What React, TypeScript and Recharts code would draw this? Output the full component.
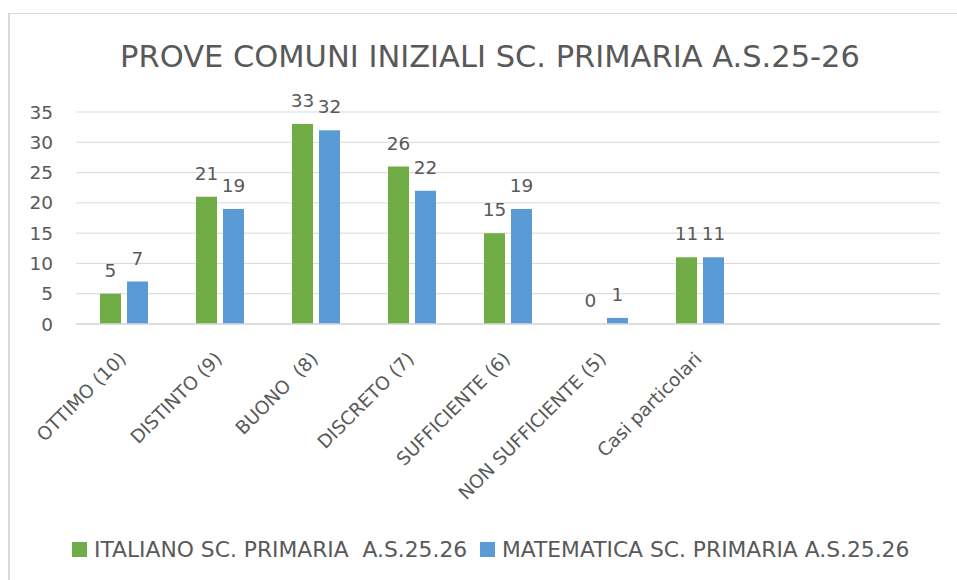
import React from "react";
import { BarChart, Bar, XAxis, YAxis, CartesianGrid, LabelList } from "recharts";

const categories = [
  "OTTIMO (10)",
  "DISTINTO (9)",
  "BUONO  (8)",
  "DISCRETO (7)",
  "SUFFICIENTE (6)",
  "NON SUFFICIENTE (5)",
  "Casi particolari",
  " ",
  "  ",
];
const italiano: (number | null)[] = [5, 21, 33, 26, 15, 0, 11, null, null];
const matematica: (number | null)[] = [7, 19, 32, 22, 19, 1, 11, null, null];
const seriesNames = ["ITALIANO SC. PRIMARIA  A.S.25.26", "MATEMATICA SC. PRIMARIA A.S.25.26"];
const seriesColors = ["#70AD47", "#5B9BD5"];
const yTicks = [0, 5, 10, 15, 20, 25, 30, 35];
const title = "PROVE COMUNI INIZIALI SC. PRIMARIA A.S.25-26";

const data = categories.map((c, i) => ({ name: c, ita: italiano[i], mat: matematica[i] }));

const FONT = "'DejaVu Sans', sans-serif";
const TXT = "#595959";

const XTick = (props: any) => {
  const { x, y, payload } = props;
  const ax = x + 3;
  const ay = y + 28;
  return (
    <text
      x={ax}
      y={ay}
      transform={`rotate(-45 ${ax} ${ay})`}
      textAnchor="end"
      fill={TXT}
      fontSize={18.5}
      fontFamily={FONT}
      style={{ whiteSpace: "pre" }}
    >
      {payload.value}
    </text>
  );
};

const renderLabel = (props: any) => {
  const { x, y, width, value } = props;
  if (value === null || value === undefined) return null;
  return (
    <text x={x + width / 2} y={y - 17} textAnchor="middle" fill={TXT} fontSize={18.5} fontFamily={FONT}>
      {value}
    </text>
  );
};

export default function App() {
  return (
    <div style={{ position: "absolute", left: 0, top: 0, width: 957, height: 580, background: "#fff", overflow: "hidden" }}>
      <div
        style={{
          position: "absolute",
          left: 8,
          top: 13,
          width: 1000,
          height: 1000,
          borderLeft: "2px solid #d9d9d9",
          borderTop: "1px solid #d9d9d9",
        }}
      />
      <div style={{ position: "absolute", left: 0, top: 0 }}>
        <BarChart
          width={957}
          height={580}
          data={data}
          margin={{ top: 112, right: 17, bottom: 156, left: 0 }}
          barCategoryGap="25%"
          barGap={6}
        >
          <CartesianGrid vertical={false} stroke="#d9d9d9" strokeWidth={1} />
          <XAxis
            dataKey="name"
            interval={0}
            height={100}
            tickLine={false}
            axisLine={{ stroke: "#d9d9d9", strokeWidth: 1.5 }}
            tick={<XTick />}
          />
          <YAxis
            width={76}
            domain={[0, 35]}
            ticks={yTicks}
            axisLine={false}
            tickLine={false}
            tickMargin={17}
            tick={{ fill: TXT, fontSize: 18.5, fontFamily: FONT }}
          />
          <Bar dataKey="ita" fill={seriesColors[0]} isAnimationActive={false} minPointSize={0.01}>
            <LabelList dataKey="ita" content={renderLabel} />
          </Bar>
          <Bar dataKey="mat" fill={seriesColors[1]} isAnimationActive={false} minPointSize={0.01}>
            <LabelList dataKey="mat" content={renderLabel} />
          </Bar>
        </BarChart>
      </div>
      <svg style={{ position: "absolute", left: 0, top: 0, pointerEvents: "none" }} width={957} height={580}>
        <text x={490} y={67} textAnchor="middle" fill={TXT} fontSize={30.5} fontFamily={FONT}>
          {title}
        </text>
        <rect x={72} y={542} width={15} height={15} fill={seriesColors[0]} />
        <text x={94} y={557} fill={TXT} fontSize={21.8} fontFamily={FONT} style={{ whiteSpace: "pre" }}>
          {seriesNames[0]}
        </text>
        <rect x={480} y={542} width={15} height={15} fill={seriesColors[1]} />
        <text x={502} y={557} fill={TXT} fontSize={21.8} fontFamily={FONT} style={{ whiteSpace: "pre" }}>
          {seriesNames[1]}
        </text>
      </svg>
    </div>
  );
}
